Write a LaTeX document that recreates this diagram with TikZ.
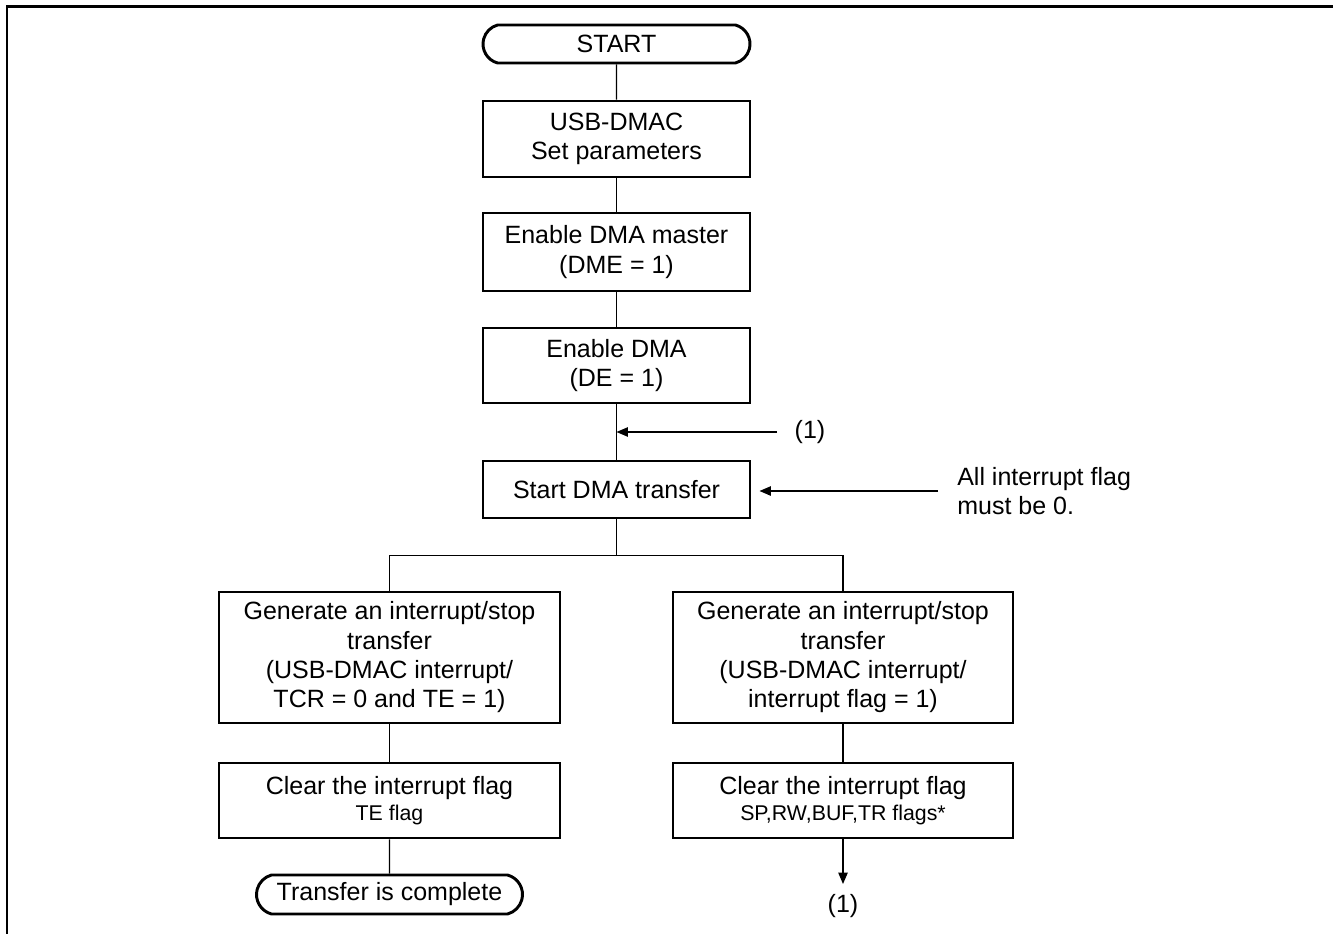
\documentclass[tikz,border=0pt]{standalone}
\usepackage{fontspec}
\setmainfont{Liberation Sans}
\usetikzlibrary{shapes.misc,arrows.meta}
\begin{document}
\begin{tikzpicture}[x=0.75pt,y=-0.75pt,
  every node/.style={font=\fontsize{18.75pt}{22pt}\selectfont, inner sep=0pt},
  procbox/.style={draw, line width=2.2pt, rectangle, align=center},
  term/.style={draw, line width=2.2pt, rounded rectangle, rounded rectangle arc length=150, align=center},
  conn/.style={line width=1pt},
  arr/.style={line width=1pt, -{Triangle[length=8.5pt,width=7pt]}},
  smalltext/.style={font=\fontsize{16pt}{19pt}\selectfont}
]
\useasboundingbox (0,0) rectangle (1333,934);
\draw[line width=2.2pt] (1333,6.5) -- (7,6.5) -- (7,934);

\node[term, minimum width=200.25pt, minimum height=28.5pt] (start) at (616.5,44) {START};
\node[procbox, minimum width=200.25pt, minimum height=57pt] (b1) at (616.5,139) {USB-DMAC\\Set parameters};
\node[procbox, minimum width=200.25pt, minimum height=58.5pt] (b2) at (616.5,252) {Enable DMA master\\(DME = 1)};
\node[procbox, minimum width=200.25pt, minimum height=56.25pt] (b3) at (616.5,365.5) {Enable DMA\\(DE = 1)};
\node[procbox, minimum width=200.25pt, minimum height=42.75pt] (b4) at (616.5,489.5) {Start DMA transfer};

\node[procbox, minimum width=255.75pt, minimum height=98.25pt] (g1) at (389.5,657.5) {Generate an interrupt/stop\\transfer\\(USB-DMAC interrupt/\\TCR = 0 and TE = 1)};
\node[procbox, minimum width=255pt, minimum height=98.25pt] (g2) at (843,657.5) {Generate an interrupt/stop\\transfer\\(USB-DMAC interrupt/\\interrupt flag = 1)};

\node[procbox, minimum width=255.75pt, minimum height=56.25pt] (c1) at (389.5,800.5) {Clear the interrupt flag\\[-3pt]{\fontsize{16pt}{19pt}\selectfont TE flag}};
\node[procbox, minimum width=255pt, minimum height=56.25pt] (c2) at (843,800.5) {Clear the interrupt flag\\[-3pt]{\fontsize{16pt}{19pt}\selectfont SP,RW,BUF,TR flags*}};

\node[term, minimum width=199.5pt, minimum height=29.25pt] (done) at (389.5,894.5) {Transfer is complete};

\node (l1) at (810,432) {(1)};
\node (l2) at (843,906) {(1)};
\node[align=left, anchor=west] (note) at (957,491) {All interrupt flag\\must be 0.};

\coordinate (r1) at (777,432);
\coordinate (n1) at (938,491);
\coordinate (t2) at (843,884);

\draw[conn] (start) -- (b1);
\draw[conn] (b1) -- (b2);
\draw[conn] (b2) -- (b3);
\draw[conn] (b3) -- (b4);
\draw[arr] (r1) -- (r1 -| b3.south);
\draw[arr] (n1) -- ([xshift=6pt]b4.east |- n1);
\draw[conn] (b4.south) -- ++(0,36) coordinate (j);
\draw[conn] (g1.north) |- (j) -| (g2.north);
\draw[conn] (g1) -- (c1);
\draw[conn] (g2) -- (c2);
\draw[conn] (c1) -- (done);
\draw[arr] (c2.south) -- (t2);
\end{tikzpicture}
\end{document}
